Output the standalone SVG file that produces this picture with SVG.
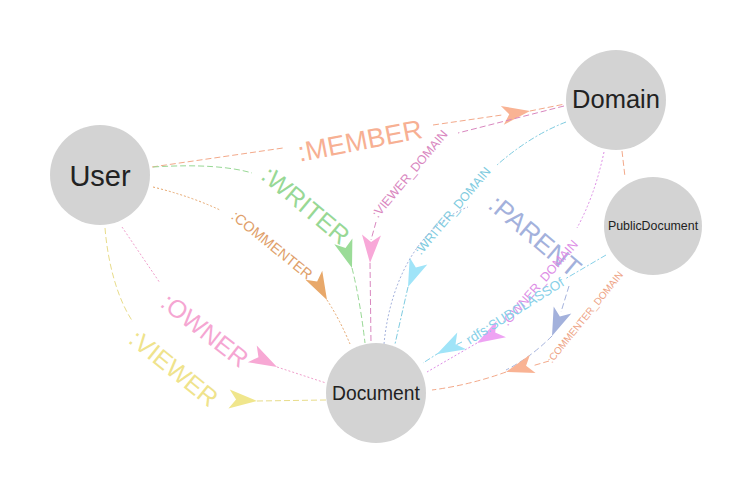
<svg xmlns="http://www.w3.org/2000/svg" width="752" height="493" viewBox="0 0 752 493">
<defs>
<style>
.node circle{fill:#d3d3d3;}
.node text{font-family:"Liberation Sans",Arial,sans-serif;fill:#222;text-anchor:middle;dominant-baseline:central;}
.lbl{font-family:"Liberation Sans",Arial,sans-serif;text-anchor:middle;dominant-baseline:central;}
.e path{fill:none;stroke-width:1;}
.dash{stroke-dasharray:6 3;}
.dot{stroke-dasharray:2 2;}
.dd{stroke-dasharray:6 2 2 2;}
</style>
<path id="ah" d="M0,0 L-28,-9.5 L-21,0 L-28,9.5 Z"/>
</defs>
<rect width="752" height="493" fill="#fff"/>
<g id="connectors">
 <g id="e-member" class="e">
  <path class="dash" stroke="#f3a98a" d="M152,167 L283,148 M433,125 L502,115 M530,111 L565,104"/>
  <use href="#ah" fill="#f9b394" transform="translate(530,111) rotate(-9)"/>
  <text class="lbl" fill="#f7b093" font-size="27" transform="translate(360,141) rotate(-11)">:MEMBER</text>
 </g>
 <g id="e-writer" class="e">
  <path class="dash" stroke="#98d895" d="M153,167 C200,164 232,167 252,173 M352,268 Q360,300 365,343"/>
  <use href="#ah" fill="#9bdc98" transform="translate(352,268) rotate(72)"/>
  <text class="lbl" fill="#98d895" font-size="25" transform="translate(306,205) rotate(40)">:WRITER</text>
 </g>
 <g id="e-commenter" class="e">
  <path class="dot" stroke="#e6a56b" d="M153,187 Q190,196 220,210 M327,300 Q340,320 350,344"/>
  <use href="#ah" fill="#e8a86a" transform="translate(327,300) rotate(62)"/>
  <text class="lbl" fill="#e0a06a" font-size="14.5" transform="translate(272,245) rotate(39)">:COMMENTER</text>
 </g>
 <g id="e-owner" class="e">
  <path class="dot" stroke="#f0a0cc" d="M122,227 L160,283 M277,367 L326,383"/>
  <use href="#ah" fill="#f7a8d4" transform="translate(277,367) rotate(28)"/>
  <text class="lbl" fill="#f5a6d2" font-size="25" transform="translate(205,330) rotate(38)">:OWNER</text>
 </g>
 <g id="e-viewer" class="e">
  <path class="dash" stroke="#e8dc8a" d="M105,228 C108,265 118,300 133,322 M257,401 L326,400"/>
  <use href="#ah" fill="#f0e68c" transform="translate(257,401) rotate(4)"/>
  <text class="lbl" fill="#efe38c" font-size="25" transform="translate(174,368) rotate(39)">:VIEWER</text>
 </g>
 <g id="e-viewer-domain" class="e">
  <path class="dash" stroke="#d987bf" d="M564,106 L458,133 M376,222 L371,240 M370,263 L371,343"/>
  <use href="#ah" fill="#f8a8d8" transform="translate(370,263) rotate(93)"/>
  <text class="lbl" fill="#d987bf" font-size="12.5" transform="translate(410,174) rotate(-50)">:VIEWER_DOMAIN</text>
 </g>
 <g id="e-writer-domain" class="e">
  <path class="dd" stroke="#7ecbe0" d="M566,122 Q530,136 497,165 M408,287 L395,344"/>
  <use href="#ah" fill="#a0e4f8" transform="translate(408,287) rotate(112)"/>
  <text class="lbl" fill="#7ecbe0" font-size="12.5" transform="translate(453,211) rotate(-50)">:WRITER_DOMAIN</text>
 </g>
 <g id="e-parent" class="e">
  <path class="dot" stroke="#a5b3dd" d="M384,344 C390,280 420,225 468,207"/>
  <path class="dash" stroke="#a5b3dd" d="M569,286 L561,312 M552,336 Q530,358 506,370"/>
  <use href="#ah" fill="#a3b1dc" transform="translate(552,336) rotate(112)"/>
  <text class="lbl" fill="#a3b1dc" font-size="26" transform="translate(535,236) rotate(40)">:PARENT</text>
 </g>
 <g id="e-owner-domain" class="e">
  <path class="dot" stroke="#dd8ee6" d="M604,152 Q595,195 577,228 M477,343 L427,372"/>
  <use href="#ah" fill="#eea3f3" transform="translate(477,343) rotate(150)"/>
  <text class="lbl" fill="#dd8ee6" font-size="12.5" transform="translate(540,283) rotate(-49)">:OWNER_DOMAIN</text>
 </g>
 <g id="e-subclass" class="e">
  <path class="dd" stroke="#86d0e8" d="M606,255 L565,279 M462,342 L437,354 L423,363"/>
  <use href="#ah" fill="#a0e4f8" transform="translate(437,354) rotate(152)"/>
  <text class="lbl" fill="#86d0e8" font-size="13.5" transform="translate(515,311) rotate(-32)">rdfs:SUBCLASSOf</text>
 </g>
 <g id="e-commenter-domain" class="e">
  <path class="dash" stroke="#f3a98a" d="M622,151 L625,177 M549,361 L532,366 M506,372 Q470,385 432,390"/>
  <use href="#ah" fill="#f9b394" transform="translate(506,372) rotate(163)"/>
  <text class="lbl" fill="#eea283" font-size="10" transform="translate(585,317) rotate(-51)">:COMMENTER_DOMAIN</text>
 </g>
</g>
<g id="node-user" class="node"><circle cx="100" cy="175" r="50"/><text x="100" y="176" font-size="29">User</text></g>
<g id="node-domain" class="node"><circle cx="616" cy="100" r="50"/><text x="616" y="99" font-size="25.5">Domain</text></g>
<g id="node-publicdocument" class="node"><circle cx="653" cy="226" r="49"/><text x="653" y="226" font-size="12.4">PublicDocument</text></g>
<g id="node-document" class="node"><circle cx="376" cy="393" r="50"/><text x="376" y="393" font-size="19.3">Document</text></g>
</svg>
